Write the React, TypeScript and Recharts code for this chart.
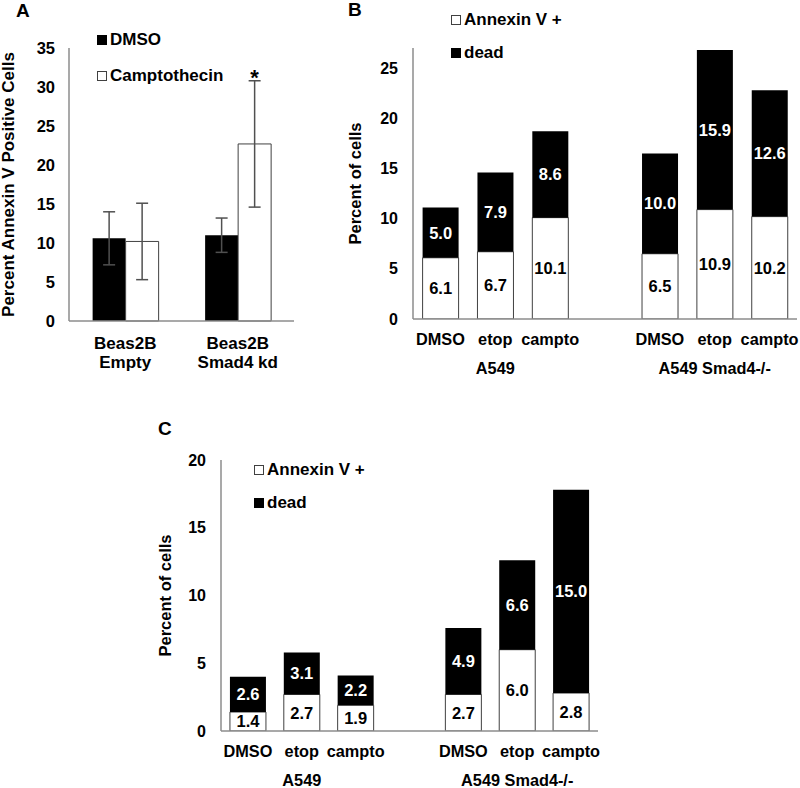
import { BarChart, Bar, XAxis, YAxis, ErrorBar, LabelList, Legend } from 'recharts'

const FONT = '"Liberation Sans", Arial, sans-serif'
const AXIS = '#8c8c8c'
const EDGE = '#404040'

// panel A
const cellTop = ['Beas2B', 'Beas2B']
const cellBottom = ['Empty', 'Smad4 kd']
const dmsoMean = [10.6, 11.0]
const dmsoErr = [3.4, 2.2]
const camptoMean = [10.2, 22.7]
const camptoErr = [4.9, 8.1]
const ticksA = [0, 5, 10, 15, 20, 25, 30, 35]

// panels B and C
const treatments = ['DMSO', 'etop', 'campto', '', 'DMSO', 'etop', 'campto']
const groups = ['', 'A549', '', '', '', 'A549 Smad4-/-', '']
const annexinB = [6.1, 6.7, 10.1, null, 6.5, 10.9, 10.2]
const deadB = [5.0, 7.9, 8.6, null, 10.0, 15.9, 12.6]
const annexinC = [1.4, 2.7, 1.9, null, 2.7, 6.0, 2.8]
const deadC = [2.6, 3.1, 2.2, null, 4.9, 6.6, 15.0]
const ticksB = [0, 5, 10, 15, 20, 25]
const ticksC = [0, 5, 10, 15, 20]

const dataA = cellTop.map((c, i) => ({
  cell: `${c} ${cellBottom[i]}`,
  dmso: dmsoMean[i],
  dmsoErr: dmsoErr[i],
  campto: camptoMean[i],
  camptoErr: camptoErr[i],
}))

const stackRows = (annexin: (number | null)[], dead: (number | null)[]) =>
  treatments.map((t, i) => ({ slot: `${i}`, annexin: annexin[i], dead: dead[i] }))

const dataB = stackRows(annexinB, deadB)
const dataC = stackRows(annexinC, deadC)

const fmt = (v: any) => (v == null ? '' : Number(v).toFixed(1))
const bold = { fontFamily: FONT, fontWeight: 'bold' as const }

function CellTick(props: any) {
  const { x, y, payload } = props
  const i = payload.index
  const s = { ...bold, fontSize: 17, fill: '#000' }
  return (
    <g>
      <text x={x} y={y + 22} textAnchor="middle" style={s}>{cellTop[i]}</text>
      <text x={x} y={y + 41} textAnchor="middle" style={s}>{cellBottom[i]}</text>
    </g>
  )
}

function TreatTick(props: any) {
  const { x, y, payload } = props
  const i = payload.index
  const s = { ...bold, fontSize: 16.3, fill: '#000' }
  return (
    <g>
      <text x={x} y={y + 20} textAnchor="middle" style={s}>{treatments[i]}</text>
      <text x={x} y={y + 49} textAnchor="middle" style={s}>{groups[i]}</text>
    </g>
  )
}

function makeLegend(order: string[], rowHeight: number) {
  return function SwatchLegend(props: any) {
    const payload = props.payload || []
    return (
      <div style={{ ...bold, fontSize: 17, color: '#000' }}>
        {order.map((name) => {
          const e = payload.find((p: any) => p.value === name)
          const fill = e ? e.color : '#000'
          return (
            <div key={name} style={{ display: 'flex', alignItems: 'center', height: rowHeight, whiteSpace: 'nowrap' }}>
              <span
                style={{
                  width: 10,
                  height: 10,
                  boxSizing: 'border-box',
                  background: fill,
                  border: `1px solid ${fill === '#fff' ? EDGE : '#000'}`,
                  marginRight: 3,
                }}
              />
              <span>{name}</span>
            </div>
          )
        })}
      </div>
    )
  }
}

function Star(props: any) {
  const vb = props.viewBox || props
  if (props.index !== 1) return null
  const { x, y, width, height } = vb
  const top = y - (camptoErr[1] * height) / camptoMean[1]
  return (
    <text x={x + width / 2} y={top + 4} textAnchor="middle" style={{ ...bold, fontSize: 22, fill: '#000' }}>
      *
    </text>
  )
}

const title = (left: number, top: number, t: string) => (
  <div style={{ position: 'absolute', left, top, ...bold, fontSize: 19, lineHeight: '19px' }}>{t}</div>
)

const yTick = { ...bold, fontSize: 16, fill: '#000' }
const labelStyle = { ...bold, fontSize: 16.5, fill: '#000', textAnchor: 'middle' as const }

function StackPanel({ data, ticks, max, yw, mr, w, h, mt, xh, gap, legendTop, legendLeft, labelOffset }: any) {
  return (
    <BarChart
      width={w}
      height={h}
      data={data}
      margin={{ top: mt, right: mr, bottom: 0, left: 0 }}
      barCategoryGap={gap}
    >
      <XAxis
        dataKey="slot"
        stroke={AXIS}
        strokeWidth={1.5}
        tickLine={false}
        tickMargin={0}
        height={xh}
        interval={0}
        tick={<TreatTick />}
      />
      <YAxis
        domain={[0, max]}
        ticks={ticks}
        allowDataOverflow
        stroke={AXIS}
        strokeWidth={1.5}
        tickLine={false}
        tickMargin={9}
        width={yw}
        tick={yTick}
        label={{ value: 'Percent of cells', angle: -90, position: 'insideLeft', offset: labelOffset, style: labelStyle }}
      />
      <Legend
        layout="horizontal"
        verticalAlign="middle"
        align="center"
        content={makeLegend(['Annexin V +', 'dead'], 32.5)}
        wrapperStyle={{ left: legendLeft, top: legendTop, width: 'auto' }}
      />
      <Bar dataKey="annexin" name="Annexin V +" stackId="s" fill="#fff" stroke={EDGE} strokeWidth={1} isAnimationActive={false}>
        <LabelList dataKey="annexin" position="center" formatter={fmt} fill="#000" style={{ ...bold, fontSize: 16.5 }} />
      </Bar>
      <Bar dataKey="dead" name="dead" stackId="s" fill="#000" isAnimationActive={false}>
        <LabelList dataKey="dead" position="center" formatter={fmt} fill="#fff" style={{ ...bold, fontSize: 16.5 }} />
      </Bar>
    </BarChart>
  )
}

export default function App() {
  return (
    <div style={{ position: 'absolute', left: 0, top: 0, width: 800, height: 788, overflow: 'hidden', background: '#fff' }}>
      {title(16, 1, 'A')}
      {title(348, 0, 'B')}
      {title(158, 419, 'C')}

      <div style={{ position: 'absolute', left: 0, top: 0 }}>
        <BarChart
          width={300}
          height={380}
          data={dataA}
          margin={{ top: 48, right: 6, bottom: 0, left: 0 }}
          barCategoryGap="21%"
          barGap={0}
        >
          <XAxis
            dataKey="cell"
            stroke={AXIS}
            strokeWidth={1.5}
            tickLine={false}
            tickMargin={0}
            height={59}
            interval={0}
            tick={<CellTick />}
          />
          <YAxis
            domain={[0, 35]}
            ticks={ticksA}
            stroke={AXIS}
            strokeWidth={1.5}
            tickLine={false}
            tickMargin={8}
            width={69}
            tick={{ ...yTick, fontSize: 16.5 }}
            label={{
              value: 'Percent Annexin V Positive Cells',
              angle: -90,
              position: 'insideLeft',
              offset: 8,
              style: { ...labelStyle, fontSize: 17 },
            }}
          />
          <Legend
            layout="horizontal"
            verticalAlign="middle"
            align="center"
            content={makeLegend(['DMSO', 'Camptothecin'], 36)}
            wrapperStyle={{ left: 97, top: 22, width: 'auto' }}
          />
          <Bar dataKey="dmso" name="DMSO" fill="#000" isAnimationActive={false}>
            <ErrorBar dataKey="dmsoErr" width={6} stroke="#505050" strokeWidth={1.5} />
          </Bar>
          <Bar dataKey="campto" name="Camptothecin" fill="#fff" stroke={EDGE} strokeWidth={1} isAnimationActive={false}>
            <ErrorBar dataKey="camptoErr" width={6} stroke="#505050" strokeWidth={1.5} />
            <LabelList dataKey="campto" content={<Star />} />
          </Bar>
        </BarChart>
      </div>

      <div style={{ position: 'absolute', left: 330, top: 0 }}>
        <StackPanel
          data={dataB}
          ticks={ticksB}
          max={27}
          yw={83}
          mr={3}
          w={470}
          h={380}
          mt={48}
          xh={61}
          gap="17.5%"
          legendLeft={121}
          legendTop={4}
          labelOffset={25}
        />
      </div>

      <div style={{ position: 'absolute', left: 150, top: 380 }}>
        <StackPanel
          data={dataC}
          ticks={ticksC}
          max={20}
          yw={71}
          mr={12}
          w={460}
          h={408}
          mt={80}
          xh={57}
          gap="16.6%"
          legendLeft={104}
          legendTop={74}
          labelOffset={15}
        />
      </div>
    </div>
  )
}
